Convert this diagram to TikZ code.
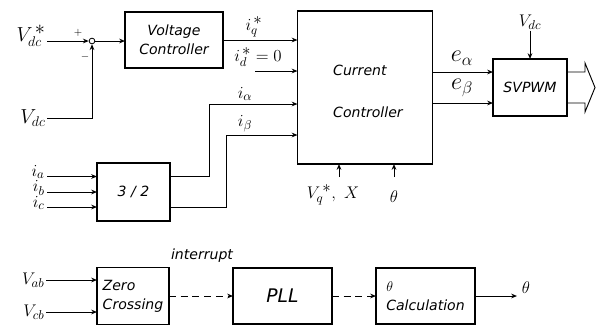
\documentclass[tikz,border=0pt]{standalone}
\usepackage{fontspec}
\newfontfamily\blockfont{DejaVu Sans}
\usetikzlibrary{arrows.meta}

\tikzset{
  block/.style={draw, line width=1pt, inner sep=0pt, outer sep=0pt, font=\blockfont\itshape\fontsize{12}{16}\selectfont},
  txt/.style={inner sep=0pt, font=\blockfont\itshape\fontsize{12}{14}\selectfont},
  lbl/.style={inner sep=1pt, font=\fontsize{15}{17}\selectfont},
  vlbl/.style={inner sep=1pt, font=\fontsize{17}{19}\selectfont},
  sig/.style={line width=0.8pt, -{Stealth[length=5pt,width=4pt]}},
  wire/.style={line width=0.8pt},
  sumjct/.style={circle, draw, line width=0.7pt, inner sep=0pt, minimum size=0.17cm},
}
\newcommand{\refstar}{^{\,\textstyle *}}

\begin{document}
\begin{tikzpicture}[x=0.03cm, y=-0.03cm]
\useasboundingbox (0,0) rectangle (604,327);

% Voltage loop
\node[vlbl, anchor=east] (vdcref) at (47,36) {$V_{dc}\refstar$};
\node[vlbl, anchor=east] (vdcfb) at (47,118) {$V_{dc}$};
\node[sumjct] (sum) at (92,41) {};
\node[lbl] (plus) at (78,33) {\small$+$};
\node[lbl] (minus) at (85,57) {\small$-$};
\node[block, minimum width=2.94cm, minimum height=1.68cm, align=center] (vc) at (174,40) {Voltage\\Controller};
\draw[sig] (vdcref.east |- sum) -- (sum.west);
\draw[sig] (vdcfb.east) -| (sum.south);
\draw[sig] (sum.east) -- (sum.east -| vc.west);

% Current controller
\node[block, minimum width=4.05cm, minimum height=4.59cm] (cc) at (365,87.5) {};
\node[txt, anchor=west] (cctop) at (333,70) {Current};
\node[txt, anchor=west] (ccbot) at (333,112) {Controller};
\node[lbl] (iqref) at (254,27) {$i_q\refstar$};
\node[lbl] (idref) at (258,57) {$i_d\refstar=0$};
\node[lbl] (ialbl) at (245,94) {$i_\alpha$};
\node[lbl] (iblbl) at (245,124) {$i_\beta$};
\coordinate (idin) at (255,71);
\draw[sig] (vc.east) -- (vc.east -| cc.west);
\draw[sig] (idin) -- (idin -| cc.west);

% 3/2 transform
\node[block, minimum width=2.19cm, minimum height=1.74cm] (tf) at (133.5,192) {3 / 2};
\node[lbl, anchor=east] (ia) at (46,172) {$i_a$};
\node[lbl, anchor=east] (ib) at (46,188) {$i_b$};
\node[lbl, anchor=east] (ic) at (46,203) {$i_c$};
\coordinate (iain) at (47,176.5);
\coordinate (ibin) at (47,192);
\coordinate (icin) at (47,207);
\draw[sig] (iain) -- (iain -| tf.west);
\draw[sig] (ibin) -- (ibin -| tf.west);
\draw[sig] (icin) -- (icin -| tf.west);
\coordinate (ialpha) at (209,104);
\coordinate (ibeta) at (226,135);
\draw[sig] (iain -| tf.east) -| (ialpha) -- (ialpha -| cc.west);
\draw[sig] (icin -| tf.east) -| (ibeta) -- (ibeta -| cc.west);

% Inputs below current controller
\coordinate (vqin) at (339,177);
\coordinate (thin) at (394,177);
\draw[sig] (vqin) -- (vqin |- cc.south);
\draw[sig] (thin) -- (thin |- cc.south);
\node[lbl] (vqx) at (333,195) {$V_q\refstar,\ X$};
\node[lbl] (thlbl) at (394,197) {$\theta$};

% SVPWM
\node[block, minimum width=2.22cm, minimum height=1.71cm] (svpwm) at (530,87.5) {SVPWM};
\node[lbl] (vdctop) at (530,22) {$V_{dc}$};
\node[lbl, font=\fontsize{21}{23}\selectfont] (ealbl) at (462,58) {$e_\alpha$};
\node[lbl, font=\fontsize{21}{23}\selectfont] (eblbl) at (462,88) {$e_\beta$};
\coordinate (ea) at (0,72);
\coordinate (eb) at (0,103);
\draw[sig] (vdctop.south) -- (svpwm.north);
\draw[sig] (ea -| cc.east) -- (ea -| svpwm.west);
\draw[sig] (eb -| cc.east) -- (eb -| svpwm.west);
\coordinate (ha) at (585,72);
\coordinate (hb) at (585,103);
\draw[wire, line join=miter] (ea -| svpwm.east) -- (ha) -- (585,63) -- (595,87.5) -- (585,112) -- (hb) -- (eb -| svpwm.east);

% Zero crossing, PLL, angle
\node[block, minimum width=2.16cm, minimum height=1.70cm, align=left] (zc) at (133,296) {Zero\\Crossing};
\node[block, minimum width=2.97cm, minimum height=1.68cm, font=\blockfont\itshape\fontsize{16}{18}\selectfont] (pll) at (282.5,296) {PLL};
\node[block, minimum width=2.97cm, minimum height=1.68cm, align=left] (thc) at (425.5,296) {{\large$\theta$}\\Calculation};
\node[txt] (intr) at (202,256) {interrupt};
\node[lbl, anchor=east] (vab) at (46,280) {$V_{ab}$};
\node[lbl, anchor=east] (vcb) at (46,312) {$V_{cb}$};
\draw[sig] (vab.east) -- (vab.east -| zc.west);
\draw[sig] (vcb.east) -- (vcb.east -| zc.west);
\draw[sig, dash pattern=on 6pt off 4pt] (zc.east) -- (pll.west);
\draw[sig, dash pattern=on 6pt off 4pt] (pll.east) -- (thc.west);
\coordinate (thout) at (517,296);
\draw[sig] (thc.east) -- (thout);
\node[lbl] (thetaout) at (526,288) {$\theta$};
\end{tikzpicture}
\end{document}
